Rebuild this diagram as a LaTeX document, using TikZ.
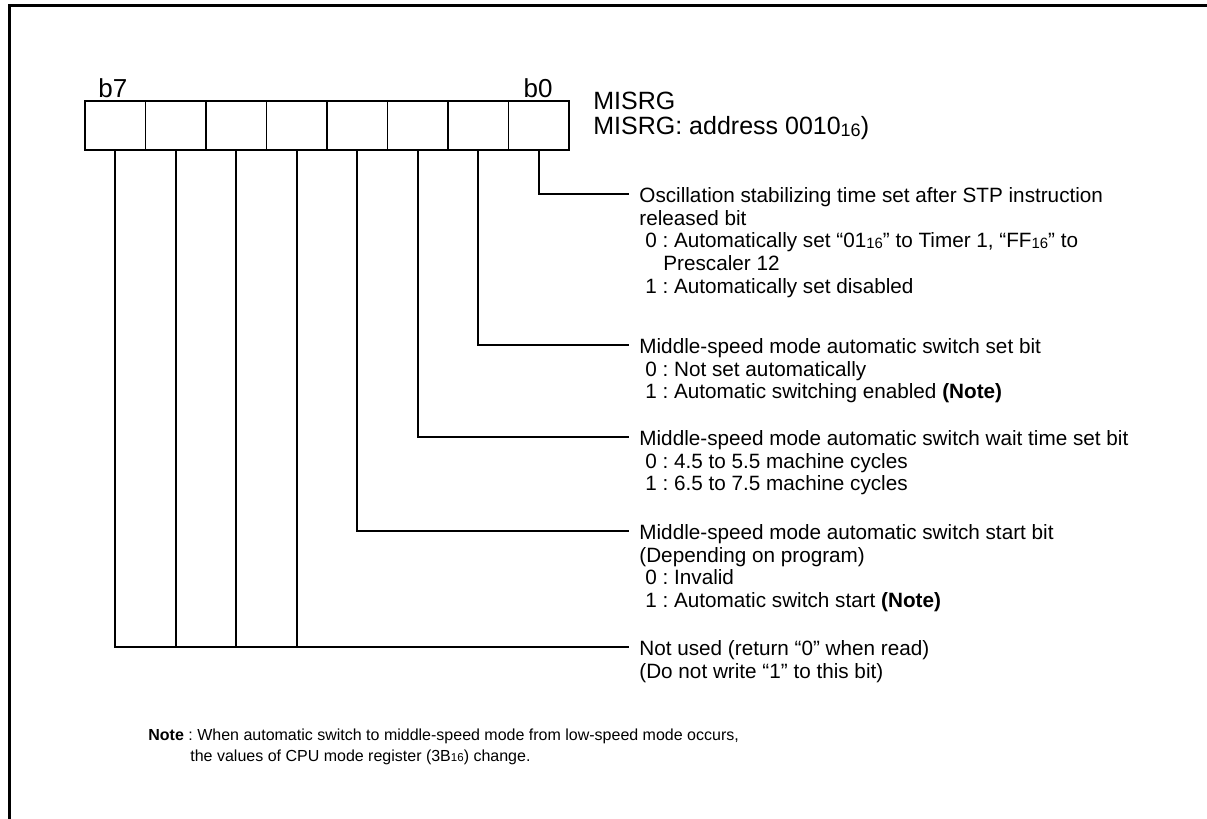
\documentclass[tikz,border=0pt]{standalone}
\usepackage{fontspec}
\usepackage{graphicx}
\setmainfont{Liberation Sans}
\usetikzlibrary{positioning}
\frenchspacing

\newcommand{\hex}[1]{\raisebox{-0.1ex}{\scalebox{0.72}{#1}}}
\newcommand{\ind}{\hspace*{3pt}}

\tikzset{
  bitcell/.style={draw, line width=0.9pt, minimum width=30.25pt, minimum height=24.65pt, inner sep=0pt, outer sep=0pt},
  bitname/.style={inner sep=0pt, font=\fontsize{13}{13}\selectfont},
  desc/.style={anchor=base west, inner sep=0pt, font=\fontsize{10.35}{11.3}\selectfont},
  wire/.style={line width=0.9pt},
}

\begin{document}
\begin{tikzpicture}[x=0.5pt, y=-0.5pt]

  \useasboundingbox (0,0) rectangle (1207,819);

  % --- Frame ---
  \draw[line width=1.5pt] (9.5,819) -- (9.5,5.5) -- (1207,5.5);

  % --- Register cells ---
  \foreach \i in {0,...,7}
    \node[bitcell] (b\i) at ({115.25+60.5*(7-\i)},125.4) {};

  \node[bitname, anchor=base west] (t7) at ([xshift=6.5pt, yshift=1.5pt]b7.north west) {b7};
  \node[bitname, anchor=base east] (t0) at ([xshift=-8pt, yshift=1.5pt]b0.north east) {b0};

  \node[anchor=base west, inner sep=0pt, font=\fontsize{12.5}{13}\selectfont] (reg) at (593,109)
    {\begin{tabular}[t]{@{}l@{}}MISRG\\MISRG: address 0010\hex{16})\end{tabular}};

  % --- Bit descriptions ---
  \coordinate (e0) at (629,194);
  \coordinate (e1) at (629,345);
  \coordinate (e2) at (629,437);
  \coordinate (e3) at (629,531);
  \coordinate (e4) at (629,647);

  \node[desc] (d0) at ([xshift=5pt, yshift=-4.3pt]e0)
    {\begin{tabular}[t]{@{}l@{}}
      Oscillation stabilizing time set after STP instruction\\
      released bit\\
      \ind 0 : Automatically set “01\hex{16}” to Timer 1, “FF\hex{16}” to\\
      \hspace*{12pt}Prescaler 12\\
      \ind 1 : Automatically set disabled
    \end{tabular}};

  \node[desc] (d1) at ([xshift=5pt, yshift=-4.3pt]e1)
    {\begin{tabular}[t]{@{}l@{}}
      Middle-speed mode automatic switch set bit\\
      \ind 0 : Not set automatically\\
      \ind 1 : Automatic switching enabled \textbf{(Note)}
    \end{tabular}};

  \node[desc] (d2) at ([xshift=5pt, yshift=-4.3pt]e2)
    {\begin{tabular}[t]{@{}l@{}}
      Middle-speed mode automatic switch wait time set bit\\
      \ind 0 : 4.5 to 5.5 machine cycles\\
      \ind 1 : 6.5 to 7.5 machine cycles
    \end{tabular}};

  \node[desc] (d3) at ([xshift=5pt, yshift=-4.3pt]e3)
    {\begin{tabular}[t]{@{}l@{}}
      Middle-speed mode automatic switch start bit\\
      (Depending on program)\\
      \ind 0 : Invalid\\
      \ind 1 : Automatic switch start \textbf{(Note)}
    \end{tabular}};

  \node[desc] (d4) at ([xshift=5pt, yshift=-4.3pt]e4)
    {\begin{tabular}[t]{@{}l@{}}
      Not used (return “0” when read)\\
      (Do not write “1” to this bit)
    \end{tabular}};

  % --- Connectors ---
  \draw[wire] (b0.south) |- (e0);
  \draw[wire] (b1.south) |- (e1);
  \draw[wire] (b2.south) |- (e2);
  \draw[wire] (b3.south) |- (e3);
  \draw[wire] (b7.south) |- (e4);
  \foreach \i in {4,5,6}
    \draw[wire] (b\i.south) -- (b\i.south |- e4);

  % --- Note ---
  \node[anchor=base west, inner sep=0pt, font=\fontsize{8}{10.5}\selectfont] (note) at (148,740)
    {\begin{tabular}[t]{@{}l@{}}
      \textbf{Note} : When automatic switch to middle-speed mode from low-speed mode occurs,\\
      \hspace*{21pt}the values of CPU mode register (3B\hex{16}) change.
    \end{tabular}};

\end{tikzpicture}
\end{document}
